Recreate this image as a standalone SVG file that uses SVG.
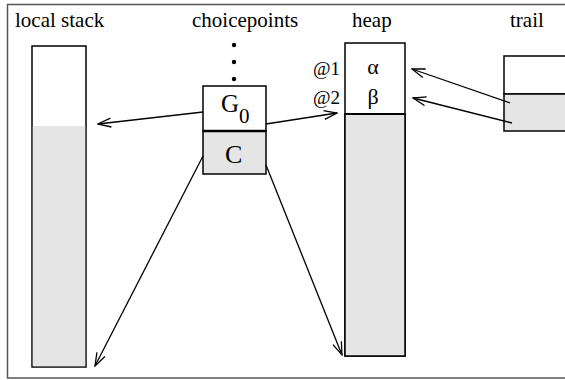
<svg xmlns="http://www.w3.org/2000/svg" width="565" height="380" viewBox="0 0 565 380">
<style>
  .lbl { font-family: "Liberation Serif", "DejaVu Serif", serif; font-size: 21px; fill: #000; }
  .at { font-family: "Liberation Serif", "DejaVu Serif", serif; font-size: 19px; fill: #000; }
  .greek { font-family: "Liberation Serif", "DejaVu Serif", serif; font-size: 22px; fill: #000; }
  .box { fill: #fff; stroke: #000; stroke-width: 1.5; }
  .gray { fill: #e5e5e5; stroke: none; }
  .edge { fill: none; stroke: #000; stroke-width: 1.3; marker-end: url(#arr); }
</style>
<defs>
  <marker id="arr" markerUnits="userSpaceOnUse" viewBox="0 0 15 11" refX="14" refY="5.5" markerWidth="15" markerHeight="11" orient="auto">
    <path d="M1,1 L14,5.5 L1,10" fill="none" stroke="#000" stroke-width="1.3"/>
  </marker>
</defs>
<rect x="0" y="0" width="565" height="380" fill="#fff"/>
<rect x="7.5" y="4.5" width="570" height="373.5" fill="none" stroke="#555" stroke-width="1.5"/>

<g id="local-stack">
  <text class="lbl" x="15" y="27">local stack</text>
  <rect class="box" x="32" y="46" width="54" height="321"/>
  <rect class="gray" x="32.8" y="126" width="52.4" height="240.2"/>
</g>

<g id="choicepoints">
  <text class="lbl" x="192" y="27">choicepoints</text>
  <circle cx="234" cy="45" r="2.2" fill="#000"/>
  <circle cx="234" cy="62" r="2.2" fill="#000"/>
  <circle cx="234" cy="79" r="2.2" fill="#000"/>
  <rect class="box" x="203" y="86" width="63" height="45"/>
  <rect x="203" y="131" width="63" height="43" fill="#e5e5e5" stroke="#000" stroke-width="1.5"/>
  <line x1="203" y1="131" x2="266" y2="131" stroke="#000" stroke-width="2.5"/>
  <text x="221" y="112" font-family="Liberation Serif, serif" font-size="25">G<tspan dy="11" font-size="21">0</tspan></text>
  <text x="225" y="163" font-family="Liberation Serif, serif" font-size="26">C</text>
</g>

<g id="heap">
  <text class="lbl" x="352" y="27">heap</text>
  <rect class="box" x="345" y="43" width="60" height="313"/>
  <rect x="345" y="114" width="60" height="242" fill="#e5e5e5" stroke="#000" stroke-width="1.5"/>
  <line x1="345" y1="114" x2="405" y2="114" stroke="#000" stroke-width="2.2"/>
  <text class="at" x="313" y="75">@1</text>
  <text class="at" x="313" y="104">@2</text>
  <text class="greek" x="373" y="74" text-anchor="middle">α</text>
  <text class="greek" x="373" y="104" text-anchor="middle">β</text>
</g>

<g id="trail">
  <text class="lbl" x="510" y="27">trail</text>
  <rect class="box" x="504" y="56" width="70" height="38"/>
  <rect x="504" y="94" width="70" height="37" fill="#e5e5e5" stroke="#000" stroke-width="1.5"/>
</g>

<g id="connectors">
  <line class="edge" x1="203" y1="112" x2="98" y2="124"/>
  <line class="edge" x1="266" y1="124" x2="337" y2="113"/>
  <line class="edge" x1="203" y1="156" x2="95" y2="366"/>
  <line class="edge" x1="266" y1="165" x2="342" y2="355"/>
  <line class="edge" x1="510" y1="103" x2="412" y2="69"/>
  <line class="edge" x1="512" y1="123" x2="413" y2="98"/>
</g>
</svg>
